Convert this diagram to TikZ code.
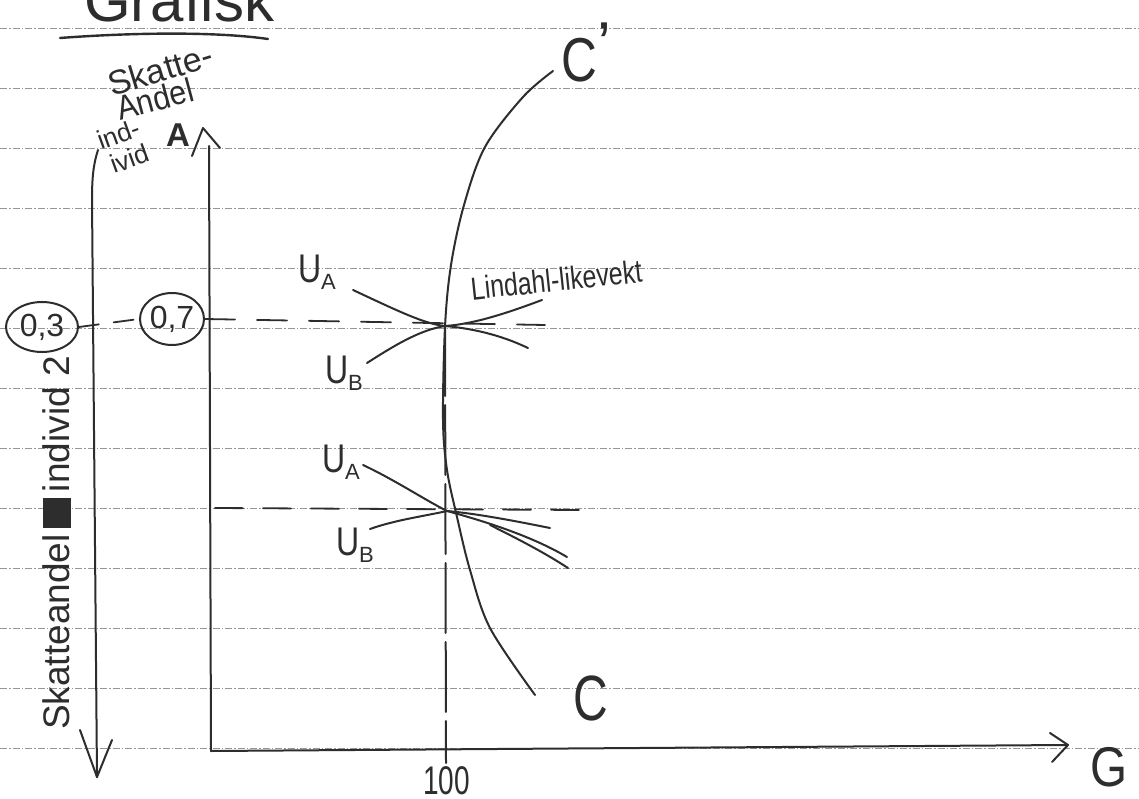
\documentclass[tikz,border=0pt]{standalone}
\usepackage{fontspec}
\setmainfont{Liberation Sans}
\usetikzlibrary{shapes.geometric}
\definecolor{ink}{RGB}{45,45,45}
\definecolor{rule}{RGB}{150,150,150}
\newcommand{\fs}[1]{\fontsize{#1}{#1}\selectfont}
\newcommand{\lowsub}[1]{\raisebox{-7pt}{\fs{22}#1}}
\begin{document}
\begin{tikzpicture}[x=1pt,y=-1pt,
  pen/.style={draw=ink, line width=2pt, line cap=round, line join=round},
  paperline/.style={draw=rule, line width=0.9pt, dash pattern=on 7pt off 2pt on 1.5pt off 2pt},
  hand/.style={text=ink, inner sep=0pt, outer sep=0pt},
  guide/.style={pen, line width=1.8pt, dash pattern=on 30pt off 22pt},
  ring/.style={ellipse, draw=ink, line width=2pt, inner sep=0pt, text=ink, font=\fs{32}}]
\useasboundingbox (0,0) rectangle (1139,799);
\clip (0,0) rectangle (1139,799);
\fill[white] (0,0) rectangle (1139,799);
% ruled paper
\foreach \k in {0,...,12}{
  \draw[paperline] (0,{28+60*\k}) -- (1139,{28+60*\k});
}
% title
\node[hand, anchor=base west, font=\fs{60}] (title) at (84,22) {Grafisk};
\draw[pen, line width=2.4pt] (60,38) .. controls (140,32) and (220,32) .. (268,39);
% main axes
\coordinate (O) at (211,751);
\coordinate (ytop) at (209,146);
\coordinate (xend) at (1066,745);
\draw[pen] (ytop) -- (O) -- (xend);
\coordinate (yap) at (203,128);
\draw[pen] (192,156) -- (yap) -- (220,148);
\coordinate (xap) at (1068,745);
\draw[pen] (1050,733) -- (xap) -- (1052,762);
% left axis (pointing down)
\coordinate (ltop) at (98,150);
\coordinate (lbot) at (97,777);
\draw[pen] (ltop) .. controls (93,165) and (92,180) .. (92,200) -- (lbot);
\draw[pen] (80,730) -- (lbot) -- (112,740);
% labels of the axes
\node[hand, anchor=base west, rotate=17, font=\fs{34}] (sk) at (112,97) {Skatte-};
\node[hand, anchor=base west, rotate=15, font=\fs{34}] (an) at (120,121) {\scalebox{0.9}[1]{Andel}};
\node[hand, anchor=base west, rotate=20, font=\fs{26}] (ind) at (101,150) {ind-};
\node[hand, anchor=base west, rotate=20, font=\fs{26}] (ivid) at (114,174) {ivid};
\node[hand, font=\bfseries\fs{33}] (Abig) at (178,135) {A};
\node[hand, rotate=90, font=\fs{37}] (left) at (57,543) {Skatteandel\,{\color{ink}\rule[-2pt]{30pt}{28pt}}\,individ 2};
\node[hand, anchor=base west, font=\fs{56}] (G) at (1090,786) {\scalebox{0.85}[1]{G}};
\node[hand, anchor=base west, font=\fs{40}] (hundred) at (423,794) {\scalebox{0.7}[1]{100}};
% circled shares
\node[ring, minimum width=72pt, minimum height=50pt] (c3) at (42,327) {0,3};
\node[ring, minimum width=64pt, minimum height=52pt] (c7) at (172,319) {0,7};
% equilibria
\coordinate (E1) at (445,326);
\coordinate (E2) at (447,511);
\coordinate (g1) at (545,325);
\coordinate (g2s) at (215,508);
\coordinate (g2e) at (582,510);
\draw[guide, dash pattern=on 20pt off 15pt] (c3.east) -- (c7.west);
\draw[guide] (c7.east) -- (g1);
\draw[guide, dash pattern=on 28pt off 20pt] (g2s) -- (g2e);
% C curve
\coordinate (Ctop) at (553,71);
\coordinate (Cbot) at (535,695);
\draw[pen] plot[smooth, tension=0.55] coordinates {(Ctop) (523,97) (485,147) (464,205) (451,265) (445,327) (443,420) (447,470) (457,517) (470,570) (490,628) (Cbot)};
\node[hand, anchor=base west, font=\fs{62}] (Cp) at (561,82) {\scalebox{0.8}[1]{C}\raisebox{16pt}{\kern1pt'}};
\node[hand, anchor=base west, font=\fs{64}] (Cl) at (573,720) {\scalebox{0.75}[1]{C}};
% vertical at G = 100
\coordinate (tick) at (446,763);
\draw[pen, dash pattern=on 70pt off 9pt] (E1) -- (tick);
% upper indifference curves
\coordinate (uA1s) at (353,290);
\coordinate (uA1e) at (528,348);
\coordinate (uB1s) at (367,363);
\coordinate (uB1e) at (542,300);
\draw[pen] (uA1s) .. controls (400,312) and (425,324) .. (E1) .. controls (478,329) and (505,337) .. (uA1e);
\draw[pen] (uB1s) .. controls (395,345) and (420,330) .. (E1) .. controls (475,324) and (510,312) .. (uB1e);
\node[hand, anchor=base west, font=\fs{40}] (UA1) at (298,283) {\scalebox{0.8}[1]{U}\lowsub{A}};
\node[hand, anchor=base west, font=\fs{40}] (UB1) at (325,383) {\scalebox{0.8}[1]{U}\lowsub{B}};
\node[hand, anchor=base west, rotate=6, font=\fs{32}] (lind) at (472,300) {\scalebox{0.78}[1]{Lindahl-likevekt}};
% lower indifference curves
\coordinate (uA2s) at (363,465);
\coordinate (uA2e) at (567,557);
\coordinate (uB2s) at (370,529);
\coordinate (uB2e) at (550,528);
\coordinate (x2s) at (490,525);
\coordinate (x2e) at (568,568);
\draw[pen] (uA2s) .. controls (395,480) and (425,500) .. (E2) .. controls (480,520) and (530,535) .. (uA2e);
\draw[pen] (uB2s) .. controls (395,520) and (425,516) .. (E2) .. controls (480,514) and (520,522) .. (uB2e);
\draw[pen] (x2s) .. controls (520,540) and (545,553) .. (x2e);
\node[hand, anchor=base west, font=\fs{40}] (UA2) at (322,472) {\scalebox{0.8}[1]{U}\lowsub{A}};
\node[hand, anchor=base west, font=\fs{40}] (UB2) at (336,555) {\scalebox{0.8}[1]{U}\lowsub{B}};
\end{tikzpicture}
\end{document}
